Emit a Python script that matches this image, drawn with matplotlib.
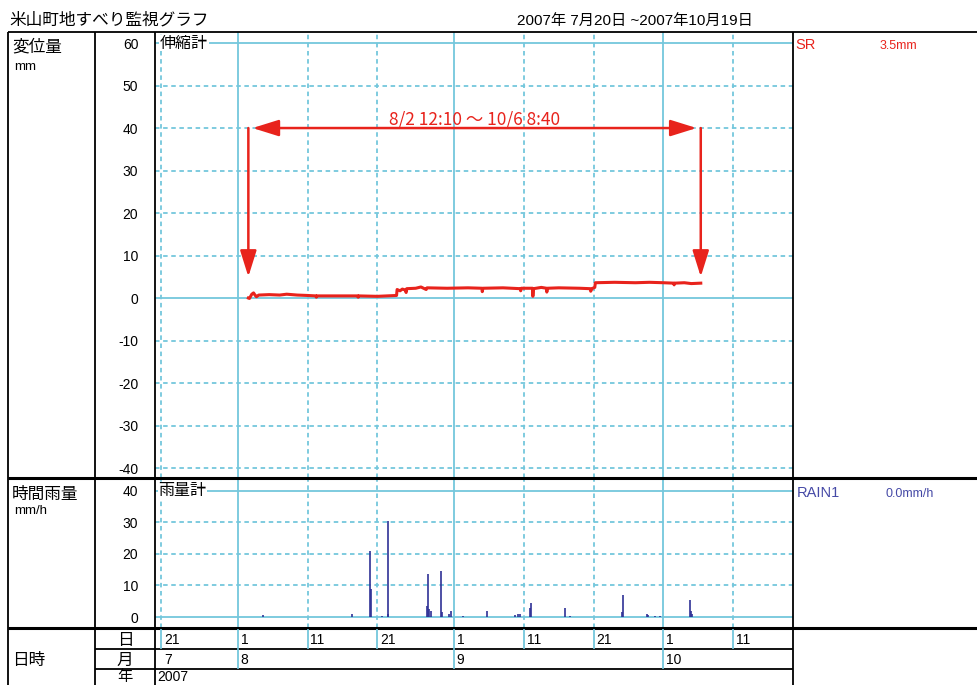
import numpy as np
import pandas as pd
import matplotlib
matplotlib.use("Agg")
import matplotlib.pyplot as plt
import matplotlib.dates as mdates
from matplotlib.transforms import blended_transform_factory

plt.rcParams["font.family"] = ["Liberation Sans", "Noto Sans CJK JP", "DejaVu Sans"]

# ── data ─────────────────────────────────────────────────────────────────────
disp_time = [
    "2007-08-02 12:10", "2007-08-02 16:00", "2007-08-03 00:00", "2007-08-03 06:00",
    "2007-08-03 12:00", "2007-08-03 16:00", "2007-08-04 00:00", "2007-08-05 12:00",
    "2007-08-07 00:00", "2007-08-08 00:00", "2007-08-09 12:00", "2007-08-11 00:00",
    "2007-08-12 05:00", "2007-08-12 06:00", "2007-08-12 08:00", "2007-08-15 00:00",
    "2007-08-18 05:00", "2007-08-18 06:00", "2007-08-18 08:00", "2007-08-21 00:00",
    "2007-08-23 18:00", "2007-08-23 20:00", "2007-08-24 06:00", "2007-08-24 14:00",
    "2007-08-25 00:00", "2007-08-25 03:00", "2007-08-25 05:00", "2007-08-26 12:00",
    "2007-08-27 06:00", "2007-08-28 00:00", "2007-08-28 03:00", "2007-08-31 00:00",
    "2007-09-03 00:00", "2007-09-05 00:00", "2007-09-05 01:00", "2007-09-05 03:00",
    "2007-09-08 00:00", "2007-09-10 12:00", "2007-09-10 13:00", "2007-09-10 15:00",
    "2007-09-12 06:00", "2007-09-12 07:00", "2007-09-12 09:00", "2007-09-13 12:00",
    "2007-09-14 06:00", "2007-09-14 07:00", "2007-09-14 09:00", "2007-09-16 00:00",
    "2007-09-19 00:00", "2007-09-20 12:00", "2007-09-20 14:00", "2007-09-20 18:00",
    "2007-09-21 04:00", "2007-09-21 06:00", "2007-09-24 00:00", "2007-09-27 00:00",
    "2007-09-29 00:00", "2007-10-01 00:00", "2007-10-02 12:00", "2007-10-02 13:00",
    "2007-10-02 15:00", "2007-10-04 00:00", "2007-10-05 00:00", "2007-10-06 08:40",
]
disp_mm = [
    0.0, -0.1, 0.9, 1.2, 0.6, 0.3, 0.7, 0.8,
    0.7, 0.9, 0.7, 0.6, 0.5, 0.2, 0.5, 0.5,
    0.5, 0.2, 0.5, 0.4, 0.6, 2.0, 1.7, 2.1,
    1.9, 1.3, 2.2, 2.3, 2.6, 2.0, 2.4, 2.3,
    2.4, 2.3, 1.5, 2.3, 2.4, 2.2, 1.7, 2.3,
    2.3, 0.4, 2.2, 2.5, 2.3, 1.4, 2.3, 2.4,
    2.3, 2.2, 1.6, 2.2, 2.5, 3.6, 3.7, 3.6,
    3.7, 3.6, 3.5, 3.1, 3.5, 3.6, 3.4, 3.5,
]

rain_time = [
    "2007-08-04 16:00", "2007-08-17 10:00", "2007-08-19 23:00", "2007-08-20 03:00",
    "2007-08-21 16:00", "2007-08-22 11:00", "2007-08-22 14:00", "2007-08-28 03:00",
    "2007-08-28 06:00", "2007-08-28 10:00", "2007-08-28 15:00", "2007-08-30 02:00",
    "2007-08-30 06:00", "2007-08-31 07:00", "2007-08-31 14:00", "2007-09-02 08:00",
    "2007-09-05 17:00", "2007-09-09 18:00", "2007-09-10 04:00", "2007-09-10 11:00",
    "2007-09-11 22:00", "2007-09-12 01:00", "2007-09-16 20:00", "2007-09-17 15:00",
    "2007-09-25 02:00", "2007-09-25 06:00", "2007-09-28 15:00", "2007-09-28 19:00",
    "2007-09-29 20:00", "2007-09-30 13:00", "2007-10-04 20:00", "2007-10-04 23:00",
    "2007-10-05 03:00",
]
rain_mmh = [
    0.5, 1.0, 21.0, 9.0, 0.3, 1.0, 30.5, 3.5, 13.5, 2.5, 2.0, 14.6,
    1.7, 1.0, 2.0, 0.3, 2.0, 0.5, 1.0, 1.0, 3.0, 4.5, 3.0, 0.3,
    1.5, 6.9, 1.0, 0.5, 0.3, 0.3, 5.4, 2.0, 1.0,
]

disp_ticks = [60, 50, 40, 30, 20, 10, 0, -10, -20, -30, -40]
rain_ticks = [40, 30, 20, 10, 0]

day_ticks = ["2007-07-21", "2007-08-01", "2007-08-11", "2007-08-21", "2007-09-01",
             "2007-09-11", "2007-09-21", "2007-10-01", "2007-10-11"]
day_labels = ["21", "1", "11", "21", "1", "11", "21", "1", "11"]
month_ticks = ["2007-07-21", "2007-08-01", "2007-09-01", "2007-10-01"]
month_labels = ["7", "8", "9", "10"]

period_start = "2007-08-02 12:10"
period_end = "2007-10-06 08:40"
period_text = "8/2 12:10 ～ 10/6 8:40"

# ── styles ───────────────────────────────────────────────────────────────────
W, H = 977, 685
GRID = "#74c7dc"
RED = "#e8231c"
BLUE = "#2f3196"
BLUE_TXT = "#4549a6"
DASH = (0, (2.5, 2))

def rect(x0, y0, x1, y1):
    return [x0 / W, 1 - y1 / H, (x1 - x0) / W, (y1 - y0) / H]

dnum = lambda s: mdates.date2num(pd.Timestamp(s))
xlim = (dnum("2007-07-20 03:00"), dnum("2007-10-19 14:00"))

fig = plt.figure(figsize=(W / 100, H / 100), dpi=100, facecolor="white")

ax1 = fig.add_axes(rect(155, 32, 793, 478))
ax2 = fig.add_axes(rect(155, 478, 793, 628))

for ax in (ax1, ax2):
    ax.set_xlim(*xlim)
    ax.set_xticks([])
    for sp in ax.spines.values():
        sp.set_visible(False)
    for t in day_ticks:
        solid = t.endswith("-01")
        ax.axvline(dnum(t), color=GRID, lw=1.3, ls="-" if solid else DASH, zorder=1)

ax1.set_ylim(-42.35, 62.6)
ax2.set_ylim(-3.48, 44.0)

for v in disp_ticks:
    ax1.axhline(v, color=GRID, lw=1.3, ls="-" if v in (60, 0) else DASH, zorder=1)
for v in rain_ticks:
    ax2.axhline(v, color=GRID, lw=1.3, ls="-" if v in (40, 0) else DASH, zorder=1)

ax1.set_yticks(disp_ticks)
ax1.set_yticklabels([str(v) for v in disp_ticks])
ax2.set_yticks(rain_ticks)
ax2.set_yticklabels([str(v) for v in rain_ticks])
for ax in (ax1, ax2):
    ax.tick_params(axis="y", length=0, pad=12, labelsize=10)

# displacement line
dt = [dnum(t) for t in disp_time]
ax1.plot(dt, disp_mm, color=RED, lw=2.2, zorder=4)

# period arrows
ts, te = dnum(period_start), dnum(period_end)
head = "head_length=1.6,head_width=0.5"
for t in (ts, te):
    ax1.annotate("", xy=(t, 5), xytext=(t, 40),
                 arrowprops=dict(arrowstyle="-|>," + head, color=RED, lw=1.8,
                                 shrinkA=0, shrinkB=0, mutation_scale=10), zorder=5)
ax1.annotate("", xy=(ts, 40), xytext=(te, 40),
             arrowprops=dict(arrowstyle="<|-|>," + head, color=RED, lw=1.8,
                             shrinkA=3, shrinkB=3, mutation_scale=10), zorder=5)
ax1.text((ts + te) / 2, 41.9, period_text, color=RED, ha="center", va="center",
         fontsize=12.5, family=["Noto Sans CJK JP", "DejaVu Sans"], zorder=5)

# rain bars
rt = [dnum(t) for t in rain_time]
ax2.vlines(rt, 0, rain_mmh, color=BLUE, lw=1.2, zorder=4)

# panel titles
ax1.text(0.008, 60, "伸縮計", transform=blended_transform_factory(ax1.transAxes, ax1.transData),
         ha="left", va="center", fontsize=11.5, zorder=6,
         bbox=dict(facecolor="white", edgecolor="none", pad=0.5))
ax2.text(0.005, 40, "雨量計", transform=blended_transform_factory(ax2.transAxes, ax2.transData),
         ha="left", va="center", fontsize=11.5, zorder=6,
         bbox=dict(facecolor="white", edgecolor="none", pad=0.5))

# ── frame, headers and date table (pixel overlay) ────────────────────────────
bg = fig.add_axes([0, 0, 1, 1], zorder=10)
bg.set_xlim(0, W)
bg.set_ylim(H, 0)
bg.axis("off")
bg.patch.set_visible(False)

def hline(y, x0, x1, lw=1.1, color="black"):
    bg.plot([x0, x1], [y, y], color=color, lw=lw, solid_capstyle="butt", clip_on=False)

def vline(x, y0, y1, lw=1.1, color="black"):
    bg.plot([x, x], [y0, y1], color=color, lw=lw, solid_capstyle="butt", clip_on=False)

hline(32, 8, W, lw=1.3)
hline(478, 8, W, lw=2.2)
hline(628, 8, W, lw=2.2)
hline(649, 95, 793, lw=1.3)
hline(669, 95, 793, lw=1.3)
for x in (8, 95, 155, 793):
    vline(x, 32, H, lw=1.3)

# table tick lines follow the date scale of the panels
tr = blended_transform_factory(ax1.transData, bg.transData)
for t, lab in zip(day_ticks, day_labels):
    x = dnum(t)
    bg.plot([x, x], [629.5, 648], color=GRID, lw=1.3, transform=tr, clip_on=False)
    bg.annotate(lab, xy=(x, 640), xycoords=tr, xytext=(2, 0), textcoords="offset points",
                ha="left", va="center", fontsize=10)
for t, lab in zip(month_ticks, month_labels):
    x = dnum(t)
    if not t.endswith("-21"):
        bg.plot([x, x], [650, 668], color=GRID, lw=1.3, transform=tr, clip_on=False)
    bg.annotate(lab, xy=(x, 660), xycoords=tr, xytext=(2, 0), textcoords="offset points",
                ha="left", va="center", fontsize=10)
bg.text(157, 677, "2007", ha="left", va="center", fontsize=10)

# header texts
bg.text(9, 20, "米山町地すべり監視グラフ", ha="left", va="center", fontsize=12)
bg.text(517, 21, "2007年 7月20日 ~2007年10月19日", ha="left", va="center", fontsize=11)

bg.text(12, 47, "変位量", ha="left", va="center", fontsize=12)
bg.text(14, 67, "mm", ha="left", va="center", fontsize=9.5)
bg.text(12, 494, "時間雨量", ha="left", va="center", fontsize=12)
bg.text(14, 511, "mm/h", ha="left", va="center", fontsize=9.5)
bg.text(12, 660, "日時", ha="left", va="center", fontsize=12)
bg.text(125, 640, "日", ha="center", va="center", fontsize=12)
bg.text(125, 660, "月", ha="center", va="center", fontsize=12)
bg.text(125, 677, "年", ha="center", va="center", fontsize=11)

bg.text(795, 45, "SR", ha="left", va="center", fontsize=10.5, color=RED)
bg.text(880, 46, "3.5mm", ha="left", va="center", fontsize=9, color=RED)
bg.text(797, 493, "RAIN1", ha="left", va="center", fontsize=10.5, color=BLUE_TXT)
bg.text(885, 494, "0.0mm/h", ha="left", va="center", fontsize=9, color=BLUE_TXT)

fig.savefig("out.png", dpi=100, facecolor="white")
